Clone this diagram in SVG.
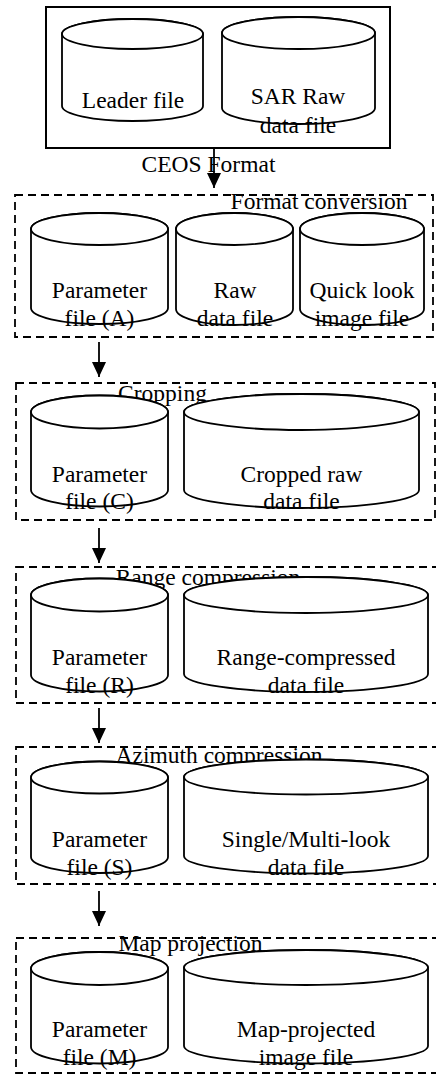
<svg xmlns="http://www.w3.org/2000/svg" width="436" height="1075" viewBox="0 0 436 1075">
  <style>
    text { font-family: "Liberation Serif", "Times New Roman", serif; font-size: 23.5px; fill: #000; text-anchor: middle; }
    .frame { fill: none; stroke: #000; stroke-width: 2; }
    .stage { fill: none; stroke: #000; stroke-width: 1.8; stroke-dasharray: 8 5; }
    .cyl { fill: #fff; stroke: #000; stroke-width: 1.8; }
    .link { stroke: #000; stroke-width: 1.8; fill: none; marker-end: url(#head); }
  </style>
  <defs>
    <marker id="head" viewBox="0 0 15 14" refX="15" refY="7" markerWidth="15" markerHeight="14" markerUnits="userSpaceOnUse" orient="auto">
      <path d="M0,0 L15,7 L0,14 Z" fill="#000"/>
    </marker>
  </defs>

  <rect width="436" height="1075" fill="#fff"/>

  <!-- Input: CEOS product -->
  <g id="ceos-input">
    <rect class="frame" x="46" y="7" width="344" height="141"/>
    <g id="leader-file">
      <path class="cyl" d="M62,34 V106 A70.5,15 0 0 0 203,106 V34 A70.5,15 0 0 0 62,34 Z"/>
      <ellipse class="cyl" cx="132.5" cy="34" rx="70.5" ry="15"/>
      <text x="133" y="108">Leader file</text>
    </g>
    <g id="sar-raw-file">
      <path class="cyl" d="M222,33 V108 A76.5,16 0 0 0 375,108 V33 A76.5,16 0 0 0 222,33 Z"/>
      <ellipse class="cyl" cx="298.5" cy="33" rx="76.5" ry="16"/>
      <text x="298" y="104">SAR Raw</text>
      <text x="298" y="133">data file</text>
    </g>
  </g>
  <text id="ceos-label" x="208.5" y="172">CEOS Format</text>

  <!-- Stage 1: format conversion -->
  <g id="format-conversion">
    <rect class="stage" x="15" y="195" width="418" height="142"/>
    <text x="319" y="209">Format conversion</text>
    <g id="parameter-a">
      <path class="cyl" d="M31,229 V308 A68.5,16 0 0 0 168,308 V229 A68.5,16 0 0 0 31,229 Z"/>
      <ellipse class="cyl" cx="99.5" cy="229" rx="68.5" ry="16"/>
      <text x="99.5" y="298">Parameter</text>
      <text x="99.5" y="326">file (A)</text>
    </g>
    <g id="raw-data">
      <path class="cyl" d="M176,229 V309 A58.5,16 0 0 0 293,309 V229 A58.5,16 0 0 0 176,229 Z"/>
      <ellipse class="cyl" cx="234.5" cy="229" rx="58.5" ry="16"/>
      <text x="235" y="298">Raw</text>
      <text x="235" y="326">data file</text>
    </g>
    <g id="quick-look">
      <path class="cyl" d="M300,229 V309 A62,16 0 0 0 424,309 V229 A62,16 0 0 0 300,229 Z"/>
      <ellipse class="cyl" cx="362" cy="229" rx="62" ry="16"/>
      <text x="362" y="298">Quick look</text>
      <text x="362" y="326">image file</text>
    </g>
  </g>

  <!-- Stage 2: cropping -->
  <g id="cropping">
    <rect class="stage" x="16" y="383" width="419" height="137"/>
    <text x="162.5" y="401">Cropping</text>
    <g id="parameter-c">
      <path class="cyl" d="M31,412 V490 A68.5,16.5 0 0 0 168,490 V412 A68.5,16.5 0 0 0 31,412 Z"/>
      <ellipse class="cyl" cx="99.5" cy="412" rx="68.5" ry="16.5"/>
      <text x="99.5" y="482">Parameter</text>
      <text x="99.5" y="509">file (C)</text>
    </g>
    <g id="cropped-raw">
      <path class="cyl" d="M184,412 V490 A117.5,18 0 0 0 419,490 V412 A117.5,18 0 0 0 184,412 Z"/>
      <ellipse class="cyl" cx="301.5" cy="412" rx="117.5" ry="18"/>
      <text x="301.5" y="482">Cropped raw</text>
      <text x="301.5" y="509">data file</text>
    </g>
  </g>

  <!-- Stage 3: range compression -->
  <g id="range-compression">
    <rect class="stage" x="16" y="567" width="430" height="136"/>
    <text x="208" y="585">Range compression</text>
    <g id="parameter-r">
      <path class="cyl" d="M31,595 V675 A68.5,16.5 0 0 0 168,675 V595 A68.5,16.5 0 0 0 31,595 Z"/>
      <ellipse class="cyl" cx="99.5" cy="595" rx="68.5" ry="16.5"/>
      <text x="99.5" y="665">Parameter</text>
      <text x="99.5" y="693">file (R)</text>
    </g>
    <g id="range-compressed">
      <path class="cyl" d="M184,595 V674 A122,18 0 0 0 428,674 V595 A122,18 0 0 0 184,595 Z"/>
      <ellipse class="cyl" cx="306" cy="595" rx="122" ry="18"/>
      <text x="306" y="665">Range-compressed</text>
      <text x="306" y="693">data file</text>
    </g>
  </g>

  <!-- Stage 4: azimuth compression -->
  <g id="azimuth-compression">
    <rect class="stage" x="16" y="747" width="430" height="137"/>
    <text x="219" y="763">Azimuth compression</text>
    <g id="parameter-s">
      <path class="cyl" d="M31,777.5 V857 A68.5,16 0 0 0 168,857 V777.5 A68.5,16 0 0 0 31,777.5 Z"/>
      <ellipse class="cyl" cx="99.5" cy="777.5" rx="68.5" ry="16"/>
      <text x="99.5" y="847">Parameter</text>
      <text x="99.5" y="875">file (S)</text>
    </g>
    <g id="single-multi-look">
      <path class="cyl" d="M184,777 V856 A122,17.5 0 0 0 428,856 V777 A122,17.5 0 0 0 184,777 Z"/>
      <ellipse class="cyl" cx="306" cy="777" rx="122" ry="17.5"/>
      <text x="306" y="847">Single/Multi-look</text>
      <text x="306" y="875">data file</text>
    </g>
  </g>

  <!-- Stage 5: map projection -->
  <g id="map-projection">
    <rect class="stage" x="16" y="938" width="430" height="135"/>
    <text x="190.5" y="951">Map projection</text>
    <g id="parameter-m">
      <path class="cyl" d="M31,968.5 V1047 A68.5,16.5 0 0 0 168,1047 V968.5 A68.5,16.5 0 0 0 31,968.5 Z"/>
      <ellipse class="cyl" cx="99.5" cy="968.5" rx="68.5" ry="16.5"/>
      <text x="99.5" y="1037">Parameter</text>
      <text x="99.5" y="1065">file (M)</text>
    </g>
    <g id="map-projected">
      <path class="cyl" d="M184,967.5 V1046 A122,17.5 0 0 0 428,1046 V967.5 A122,17.5 0 0 0 184,967.5 Z"/>
      <ellipse class="cyl" cx="306" cy="967.5" rx="122" ry="17.5"/>
      <text x="306" y="1037">Map-projected</text>
      <text x="306" y="1065">image file</text>
    </g>
  </g>

  <!-- Processing flow -->
  <g id="connectors">
    <line class="link" x1="214" y1="148" x2="214" y2="188"/>
    <line class="link" x1="99" y1="342" x2="99" y2="377"/>
    <line class="link" x1="99" y1="528" x2="99" y2="563"/>
    <line class="link" x1="99" y1="708" x2="99" y2="743"/>
    <line class="link" x1="99" y1="891" x2="99" y2="926"/>
  </g>
</svg>
